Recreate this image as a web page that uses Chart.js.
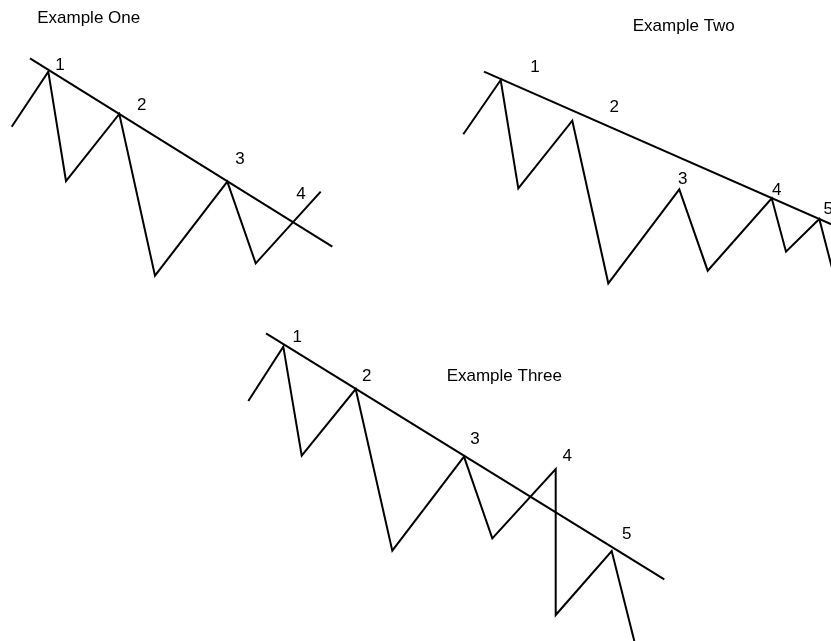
<!DOCTYPE html>
<html>
<head>
<meta charset="utf-8">
<script src="https://cdn.jsdelivr.net/npm/chart.js@4"></script>
<style>
  html, body { margin: 0; padding: 0; background: #fff; }
  canvas { display: block; }
</style>
</head>
<body>
<canvas id="myChart" width="831" height="641"></canvas>
<script>
// price swings and trend lines (x right, y down)
var zigzagOne = [[11.7, 126.7], [48.3, 71.7], [66, 181], [119.3, 114], [155, 275.7], [227.3, 181.7], [255.7, 263.3], [320.7, 191.7]];
var trendOne = [[30, 58.3], [332.3, 246.7]];

var zigzagTwo = [[463.3, 134.3], [500.7, 80], [518.3, 188.3], [572.3, 120.7], [608.3, 283.3], [679.3, 189.3], [707.7, 270.7], [771.7, 198.3], [786, 251.7], [819.3, 219], [838, 291]];
var trendTwo = [[484, 71.7], [840, 228]];

var zigzagThree = [[248.3, 401], [283.3, 346.7], [301.7, 455.7], [355.7, 389], [392.3, 550.7], [464, 456.7], [492.3, 538.3], [555.7, 469], [555.7, 615], [611.7, 551], [634.3, 641]];
var trendThree = [[266, 333.3], [664.3, 579.3]];

var pointLabels = ['1', '2', '3', '4', '1', '2', '3', '4', '5', '1', '2', '3', '4', '5'];
var pointLabelPos = [[60, 65], [141.7, 105], [240, 159.8], [301, 194.5],
    [535, 67.2], [614.3, 107.5], [682.7, 179], [776.7, 190], [828.3, 209.2],
    [297.3, 337.5], [366.7, 376.7], [475, 439.5], [567.3, 456.8], [626.7, 534.5]];

var titles = ['Example One', 'Example Two', 'Example Three'];
var titlePos = [[88.7, 18], [683.8, 26.8], [504.3, 376]];

function toPoints(arr) {
    return arr.map(function (p) { return { x: p[0], y: p[1] }; });
}

function lineSet(arr) {
    return {
        data: toPoints(arr),
        showLine: true,
        borderColor: '#000',
        borderWidth: 2,
        pointRadius: 0,
        tension: 0,
        fill: false
    };
}

var textPlugin = {
    id: 'texts',
    afterDatasetsDraw: function (chart) {
        var ctx = chart.ctx;
        var xs = chart.scales.x;
        var ys = chart.scales.y;
        ctx.save();
        ctx.fillStyle = '#000';
        ctx.textAlign = 'center';
        ctx.textBaseline = 'middle';
        ctx.font = '17px "Liberation Sans", Arial, sans-serif';
        for (var i = 0; i < pointLabels.length; i++) {
            ctx.fillText(pointLabels[i], xs.getPixelForValue(pointLabelPos[i][0]), ys.getPixelForValue(pointLabelPos[i][1]));
        }
        for (var j = 0; j < titles.length; j++) {
            ctx.fillText(titles[j], xs.getPixelForValue(titlePos[j][0]), ys.getPixelForValue(titlePos[j][1]));
        }
        ctx.restore();
    }
};

var ctx = document.getElementById('myChart').getContext('2d');
var myChart = new Chart(ctx, {
    type: 'scatter',
    data: {
        datasets: [
            lineSet(zigzagOne), lineSet(trendOne),
            lineSet(zigzagTwo), lineSet(trendTwo),
            lineSet(zigzagThree), lineSet(trendThree)
        ]
    },
    options: {
        responsive: false,
        animation: false,
        layout: { padding: 0 },
        plugins: {
            legend: { display: false },
            tooltip: { enabled: false }
        },
        scales: {
            x: { type: 'linear', min: 0, max: 831, display: false },
            y: { type: 'linear', min: 0, max: 641, reverse: true, display: false }
        }
    },
    plugins: [textPlugin]
});
</script>
</body>
</html>
